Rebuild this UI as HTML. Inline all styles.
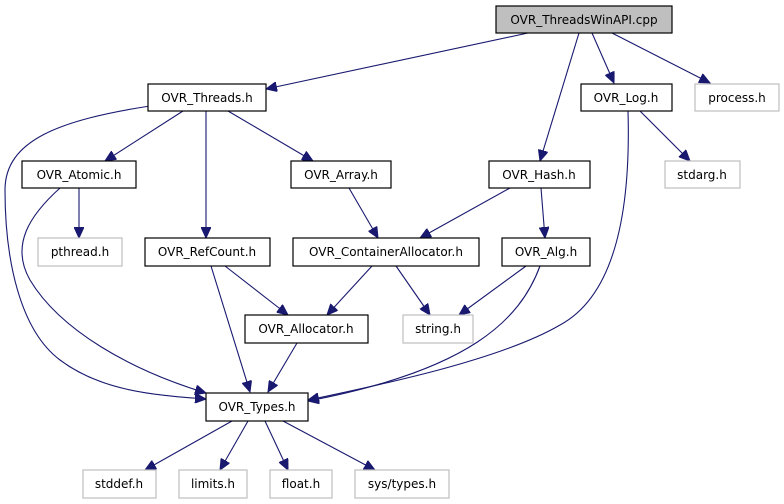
<!DOCTYPE html>
<html><head><meta charset="utf-8"><style>
html,body{margin:0;padding:0;background:#fff;}
svg{display:block;}
text{font-family:"DejaVu Sans","Liberation Sans",sans-serif;font-size:12px;fill:#000;}
.n{fill:#fff;stroke:#000;stroke-width:1.2;}
.g{fill:#fff;stroke:#bfbfbf;stroke-width:1.2;}
.e{fill:none;stroke:#191970;stroke-width:1.1;}
</style></head><body>
<svg width="784" height="504" viewBox="0 0 784 504" xmlns="http://www.w3.org/2000/svg">
<defs><marker id="a" markerUnits="userSpaceOnUse" markerWidth="12" markerHeight="10" refX="11" refY="5" orient="auto"><path d="M0,0 L11,5 L0,10 Z" fill="#191970" stroke="#191970"/></marker></defs>
<g marker-end="url(#a)">
<path class="e" d="M528,33 L266,89"/>
<path class="e" d="M579,33 L540,161"/>
<path class="e" d="M592,33 L614,83"/>
<path class="e" d="M612,33 L710,83"/>
<path class="e" d="M183,111 L105,161"/>
<path class="e" d="M206,111 L206,238"/>
<path class="e" d="M228,111 L313,161"/>
<path class="e" d="M150,106 C60,120 5,140 5,190 C5,260 20,330 60,360 C100,390 150,395 206,399"/>
<path class="e" d="M79,188 L79,238"/>
<path class="e" d="M60,188 C30,215 10,245 30,280 C60,330 130,370 206,393"/>
<path class="e" d="M349,188 L378,238"/>
<path class="e" d="M510,188 L420,238"/>
<path class="e" d="M541,188 L545,238"/>
<path class="e" d="M640,111 L690,161"/>
<path class="e" d="M628,111 C630,180 625,290 560,325 C500,360 380,385 308,400"/>
<path class="e" d="M225,266 L288,315"/>
<path class="e" d="M211,266 L250,392"/>
<path class="e" d="M372,266 L327,315"/>
<path class="e" d="M396,266 L430,315"/>
<path class="e" d="M526,266 L459,315"/>
<path class="e" d="M540,266 C520,320 470,370 308,401"/>
<path class="e" d="M297,343 L268,392"/>
<path class="e" d="M232,421 L145,470"/>
<path class="e" d="M248,421 L220,470"/>
<path class="e" d="M265,421 L288,470"/>
<path class="e" d="M283,421 L375,470"/>
</g>
<rect x="496" y="6" width="176" height="27" fill="#bfbfbf" stroke="#000" stroke-width="1.2"/><text x="584" y="24" text-anchor="middle">OVR_ThreadsWinAPI.cpp</text>
<rect class="n" x="148" y="84" width="118" height="27"/><text x="207" y="102" text-anchor="middle">OVR_Threads.h</text>
<rect class="n" x="581" y="84" width="91" height="27"/><text x="626" y="102" text-anchor="middle">OVR_Log.h</text>
<rect class="g" x="695" y="84" width="84" height="27"/><text x="737" y="102" text-anchor="middle">process.h</text>
<rect class="n" x="22" y="161" width="114" height="27"/><text x="79" y="179" text-anchor="middle">OVR_Atomic.h</text>
<rect class="n" x="291" y="161" width="100" height="27"/><text x="341" y="179" text-anchor="middle">OVR_Array.h</text>
<rect class="n" x="489" y="161" width="101" height="27"/><text x="539" y="179" text-anchor="middle">OVR_Hash.h</text>
<rect class="g" x="665" y="161" width="75" height="27"/><text x="702" y="179" text-anchor="middle">stdarg.h</text>
<rect class="g" x="38" y="238" width="84" height="28"/><text x="80" y="256" text-anchor="middle">pthread.h</text>
<rect class="n" x="145" y="238" width="125" height="28"/><text x="207" y="256" text-anchor="middle">OVR_RefCount.h</text>
<rect class="n" x="293" y="238" width="186" height="28"/><text x="386" y="256" text-anchor="middle">OVR_ContainerAllocator.h</text>
<rect class="n" x="502" y="238" width="88" height="28"/><text x="546" y="256" text-anchor="middle">OVR_Alg.h</text>
<rect class="n" x="245" y="315" width="123" height="28"/><text x="306" y="333" text-anchor="middle">OVR_Allocator.h</text>
<rect class="g" x="403" y="315" width="70" height="28"/><text x="438" y="333" text-anchor="middle">string.h</text>
<rect class="n" x="206" y="393" width="102" height="28"/><text x="257" y="411" text-anchor="middle">OVR_Types.h</text>
<rect class="g" x="83" y="470" width="73" height="28"/><text x="119" y="488" text-anchor="middle">stddef.h</text>
<rect class="g" x="179" y="470" width="68" height="28"/><text x="213" y="488" text-anchor="middle">limits.h</text>
<rect class="g" x="270" y="470" width="62" height="28"/><text x="301" y="488" text-anchor="middle">float.h</text>
<rect class="g" x="355" y="470" width="94" height="28"/><text x="402" y="488" text-anchor="middle">sys/types.h</text>
</svg>
</body></html>
